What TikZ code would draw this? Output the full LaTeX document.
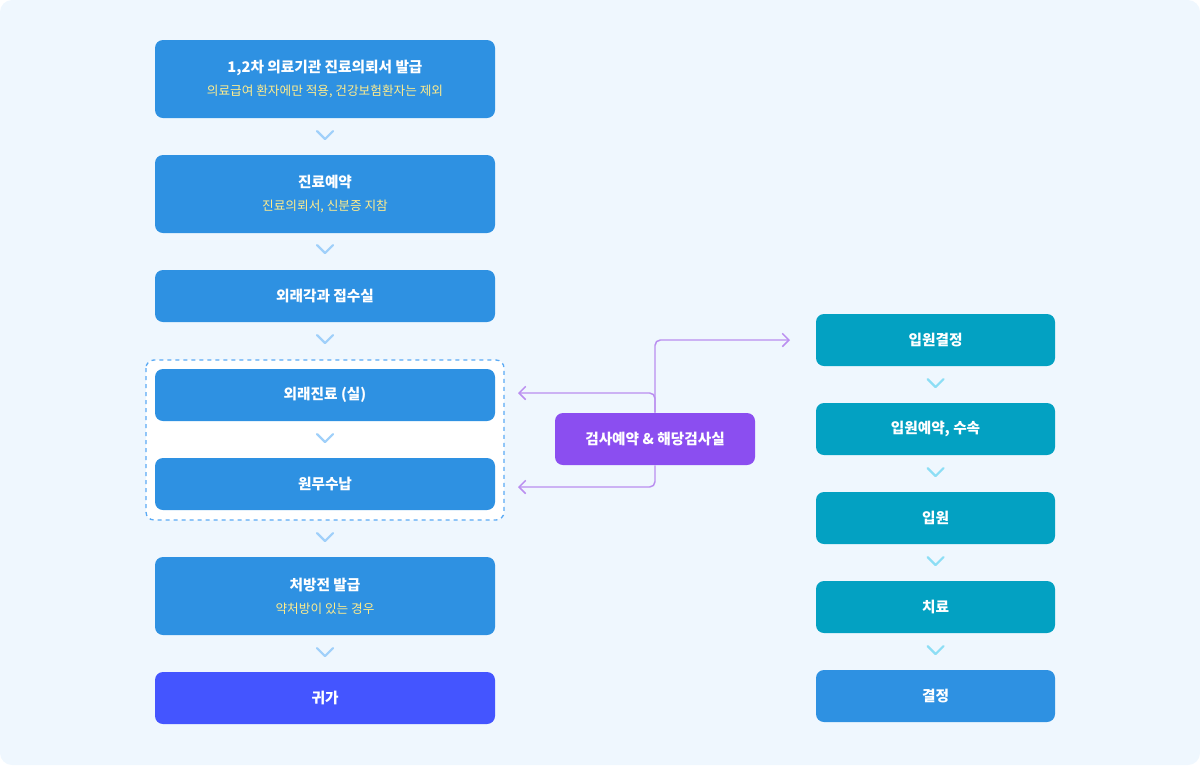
\documentclass[tikz,border=0pt]{standalone}
\usepackage{fontspec}
\setmainfont{Noto Sans CJK KR}
\usetikzlibrary{arrows.meta}
\definecolor{bgblue}{RGB}{239,247,254}
\definecolor{stepblue}{RGB}{46,145,226}
\definecolor{stepteal}{RGB}{3,161,194}
\definecolor{stepnavy}{RGB}{68,85,255}
\definecolor{steppurple}{RGB}{139,78,240}
\definecolor{chevblue}{RGB}{160,208,250}
\definecolor{chevteal}{RGB}{140,222,245}
\definecolor{linkpurple}{RGB}{186,142,240}
\definecolor{noteyellow}{RGB}{255,236,140}
\definecolor{dashblue}{RGB}{90,170,245}
\tikzset{
  flowstep/.style={rounded corners=6, fill=stepblue, text=white, minimum width=255, align=center, font=\bfseries\fontsize{11}{14}\selectfont, inner sep=0},
  rstep/.style={flowstep, fill=stepteal, minimum width=179.25},
  chev/.style={draw=chevblue, line width=1.6, line cap=round, line join=round},
  link/.style={draw=linkpurple, line width=1.1, rounded corners=4, -{Straight Barb[length=5pt,width=10pt]}}
}
\newcommand{\stepnote}[1]{{\normalfont\color{noteyellow}\fontsize{9.5}{12}\selectfont #1}}
\newcommand{\chevron}[3][chev]{\draw[#1] (#2-8,#3-5) -- (#2,#3+3) -- (#2+8,#3-5);}
\begin{document}
\begin{tikzpicture}[x=0.75pt,y=0.75pt,yscale=-1]
\useasboundingbox (0,0) rectangle (1200,765);
\fill[bgblue, rounded corners=9] (0,0) rectangle (1200,765);

% dashed group
\draw[dashblue, dashed, line width=1, fill=white, rounded corners=6] (146,360) rectangle (504,520);

% left column
\node[flowstep, minimum height=58.5] (issue) at (325,79) {1,2차 의료기관 진료의뢰서 발급\\[3pt]\stepnote{의료급여 환자에만 적용, 건강보험환자는 제외}};
\node[flowstep, minimum height=58.5] (book) at (325,194) {진료예약\\[3pt]\stepnote{진료의뢰서, 신분증 지참}};
\node[flowstep, minimum height=39] (desk) at (325,296) {외래각과 접수실};
\node[flowstep, minimum height=39] (clinic) at (325,395) {외래진료 (실)};
\node[flowstep, minimum height=39] (pay) at (325,484) {원무수납};
\node[flowstep, minimum height=58.5] (rx) at (325,596) {처방전 발급\\[3pt]\stepnote{약처방이 있는 경우}};
\node[flowstep, fill=stepnavy, minimum height=39] (home) at (325,698) {귀가};

\chevron{325}{136}
\chevron{325}{250}
\chevron{325}{340}
\chevron{325}{439}
\chevron{325}{538}
\chevron{325}{653}

% exam
\node[flowstep, fill=steppurple, minimum width=150, minimum height=39] (exam) at (655,439) {검사예약 \& 해당검사실};
\coordinate (toadmit) at (790,340);
\coordinate (toclinic) at (518,393);
\coordinate (topay) at (518,487);
\draw[link] (exam.north) |- (toadmit);
\draw[link] (exam.north) |- (toclinic);
\draw[link] (exam.south) |- (topay);

% right column
\node[rstep, minimum height=39] (admit) at (935.5,340) {입원결정};
\node[rstep, minimum height=39] (reserve) at (935.5,429) {입원예약, 수속};
\node[rstep, minimum height=39] (ward) at (935.5,518) {입원};
\node[rstep, minimum height=39] (treat) at (935.5,607) {치료};
\node[rstep, fill=stepblue, minimum height=39] (decide) at (935.5,696) {결정};

\chevron[chev,draw=chevteal]{935.5}{384}
\chevron[chev,draw=chevteal]{935.5}{473}
\chevron[chev,draw=chevteal]{935.5}{562}
\chevron[chev,draw=chevteal]{935.5}{651}
\end{tikzpicture}
\end{document}
